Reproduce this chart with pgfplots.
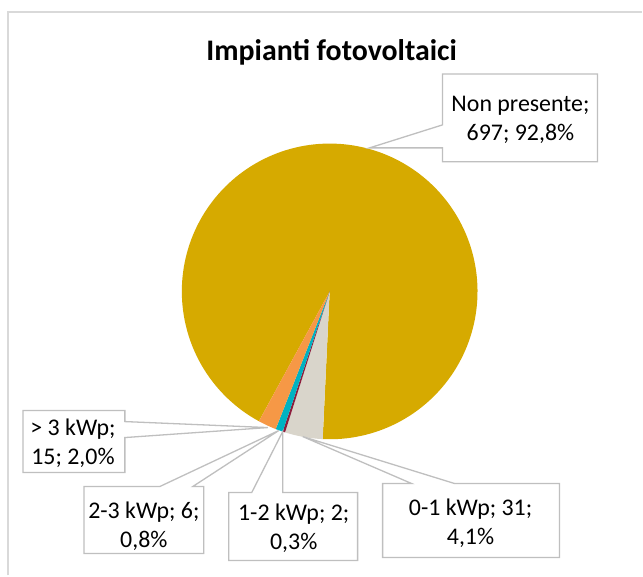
\documentclass[border=0pt]{standalone}
\usepackage{pgfplots}
\pgfplotsset{compat=1.18}
\usepackage{pgfplotstable}
\usepackage{fontspec}
\setmainfont{Carlito}

\definecolor{cGold}{RGB}{214,170,0}
\definecolor{cBeige}{RGB}{217,213,203}
\definecolor{cRed}{RGB}{140,30,60}
\definecolor{cTeal}{RGB}{0,178,194}
\definecolor{cOrange}{RGB}{246,152,70}
\definecolor{cLine}{RGB}{191,191,191}
\definecolor{cBorder}{RGB}{217,217,217}

% Impianti fotovoltaici: Non presente, 0-1 kWp, 1-2 kWp, 2-3 kWp, > 3 kWp
\pgfplotstableread{
value
697
31
2
6
15
}\piedata

\newcommand\pieslice[3]{%
  \addplot[draw=none, fill=#3, domain=#2:#1, samples=180]
    ({330+148*cos(x)},{291.7-148*sin(x)}) -- (axis cs:330,291.7) -- cycle;}

\begin{document}
\begin{tikzpicture}
\pgfplotstablegetelem{0}{value}\of\piedata \let\vA\pgfplotsretval
\pgfplotstablegetelem{1}{value}\of\piedata \let\vB\pgfplotsretval
\pgfplotstablegetelem{2}{value}\of\piedata \let\vC\pgfplotsretval
\pgfplotstablegetelem{3}{value}\of\piedata \let\vD\pgfplotsretval
\pgfplotstablegetelem{4}{value}\of\piedata \let\vE\pgfplotsretval
\pgfmathsetmacro\total{\vA+\vB+\vC+\vD+\vE}
\pgfmathsetmacro\unit{360/\total}
\pgfmathsetmacro\aA{241.4}
\pgfmathsetmacro\aB{\aA-\unit*\vA}
\pgfmathsetmacro\aC{\aB-\unit*\vB}
\pgfmathsetmacro\aD{\aC-\unit*\vC}
\pgfmathsetmacro\aE{\aD-\unit*\vD}
\pgfmathsetmacro\aF{\aE-\unit*\vE}
\begin{axis}[
  at={(0,0)}, anchor=south west,
  scale only axis, width=643bp, height=576bp,
  xmin=0, xmax=643, ymin=0, ymax=576, y dir=reverse,
  hide axis, clip=false]
  \path (axis cs:0,0) rectangle (axis cs:643,576);
  % chart border
  \draw[cBorder, line width=1.3bp] (axis cs:8,576) -- (axis cs:8,12) -- (axis cs:643,12);
  % title
  \node[font=\fontsize{30}{35}\selectfont\bfseries] at (axis cs:332,52) {Impianti fotovoltaici};
  % slices
  \pieslice{\aA}{\aB}{cGold}
  \pieslice{\aB}{\aC}{cBeige}
  \pieslice{\aC}{\aD}{cRed}
  \pieslice{\aD}{\aE}{cTeal}
  \pieslice{\aE}{\aF}{cOrange}
  % callouts
  \filldraw[fill=white, draw=cLine, line width=1.3bp]
    (axis cs:443,74) -- (axis cs:598,74) -- (axis cs:598,162) -- (axis cs:443,162)
    -- (axis cs:443,148) -- (axis cs:370,148) -- (axis cs:443,125) -- cycle;
  \filldraw[fill=white, draw=cLine, line width=1.3bp]
    (axis cs:23,411) -- (axis cs:125,411) -- (axis cs:125,422) -- (axis cs:268,428)
    -- (axis cs:125,438) -- (axis cs:125,473) -- (axis cs:23,473) -- cycle;
  \filldraw[fill=white, draw=cLine, line width=1.3bp]
    (axis cs:84,487) -- (axis cs:160,487) -- (axis cs:279,431) -- (axis cs:193,487)
    -- (axis cs:204,487) -- (axis cs:204,554) -- (axis cs:84,554) -- cycle;
  \filldraw[fill=white, draw=cLine, line width=1.3bp]
    (axis cs:229,493) -- (axis cs:252,493) -- (axis cs:283,432) -- (axis cs:283,493)
    -- (axis cs:358,493) -- (axis cs:358,561) -- (axis cs:229,561) -- cycle;
  \filldraw[fill=white, draw=cLine, line width=1.3bp]
    (axis cs:383,484) -- (axis cs:412,484) -- (axis cs:303,437) -- (axis cs:455,484)
    -- (axis cs:560,484) -- (axis cs:560,558) -- (axis cs:383,558) -- cycle;
  % labels
  \begin{scope}[every node/.style={align=center, font=\fontsize{24}{29}\selectfont, inner sep=0pt}]
  \node at (axis cs:521,120) {Non presente;\\697; 92,8\%};
  \node at (axis cs:73,444) {> 3 kWp;\\15; 2,0\%};
  \node at (axis cs:144,527) {2-3 kWp; 6;\\0,8\%};
  \node at (axis cs:294,529) {1-2 kWp; 2;\\0,3\%};
  \node at (axis cs:471,524) {0-1 kWp; 31;\\4,1\%};
  \end{scope}
\end{axis}
\end{tikzpicture}
\end{document}
